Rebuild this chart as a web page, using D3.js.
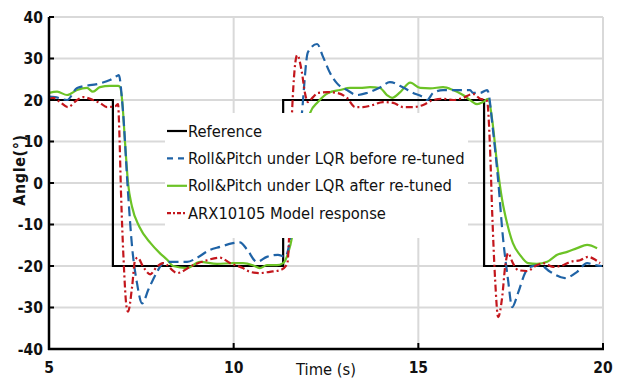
<!DOCTYPE html>
<html>
<head>
<meta charset="utf-8">
<script src="https://cdn.jsdelivr.net/npm/d3@7"></script>
<style>
body { margin: 0; background: #fff; }
</style>
</head>
<body>
<script>
// angle response chart
var w = 619;
var h = 379;
var padL = 49, padT = 17, padR = 603, padB = 349;

// reference step
var refT = [5, 6.73, 11.34, 16.78, 20];
var refV = [20, -20, 20, -20, -20];

// Roll&Pitch under LQR before re-tuned
var beforeT = [5.00, 5.16, 5.49, 5.76, 6.38, 6.65, 6.84, 6.89, 7.00, 7.14, 7.25, 7.38, 7.52, 7.70, 7.92, 8.09, 8.28, 8.74, 9.01, 9.36, 9.63, 9.98, 10.17, 10.36, 10.63, 10.90, 11.20, 11.39, 11.50, 11.65, 11.75, 11.85, 12.01, 12.26, 12.42, 12.61, 12.80, 13.07, 13.34, 13.61, 13.96, 14.23, 14.59, 14.86, 15.13, 15.24, 15.40, 15.67, 16.05, 16.40, 16.48, 16.67, 16.86, 16.89, 17.02, 17.16, 17.29, 17.43, 17.54, 17.70, 17.89, 18.02, 18.30, 18.57, 18.97, 19.30, 19.57, 19.79, 19.97];
var beforeV = [20.8, 20.7, 20.0, 22.9, 24.0, 24.8, 25.8, 26.0, 17.6, -2.4, -15.4, -24.0, -29.0, -25.5, -21.5, -19.3, -19.0, -19.0, -18.0, -16.1, -15.4, -14.5, -14.3, -16.0, -19.0, -17.8, -17.3, -17.8, -15.0, -3.0, 7.0, 17.0, 31.5, 33.5, 30.4, 26.5, 24.0, 22.4, 21.2, 21.7, 23.0, 24.3, 23.0, 21.7, 20.7, 20.0, 21.7, 22.4, 22.4, 22.4, 21.7, 21.7, 22.4, 22.0, 12.8, 0.7, -13.0, -23.4, -29.9, -26.5, -21.7, -20.2, -19.8, -21.4, -22.9, -21.4, -19.3, -19.8, -20.0];

// Roll&Pitch under LQR after re-tuned
var afterT = [5.00, 5.22, 5.49, 5.76, 6.03, 6.19, 6.38, 6.65, 6.87, 6.92, 6.98, 7.06, 7.14, 7.25, 7.45, 7.75, 8.00, 8.20, 8.36, 8.74, 9.09, 9.55, 9.98, 10.25, 10.52, 10.71, 10.90, 11.17, 11.34, 11.47, 11.58, 11.69, 11.80, 11.93, 12.07, 12.28, 12.56, 12.88, 13.15, 13.42, 13.69, 13.96, 14.15, 14.29, 14.51, 14.78, 15.05, 15.32, 15.67, 15.94, 16.21, 16.40, 16.59, 16.75, 16.89, 17.00, 17.13, 17.27, 17.40, 17.56, 17.75, 17.97, 18.21, 18.49, 18.76, 19.03, 19.30, 19.57, 19.84];
var afterV = [21.7, 22.0, 21.2, 22.4, 22.9, 22.0, 23.1, 23.4, 23.4, 23.2, 20.0, 9.6, 0.0, -5.8, -10.6, -14.5, -16.9, -18.5, -20.0, -20.5, -19.0, -19.5, -19.3, -19.3, -19.8, -20.5, -19.8, -19.8, -19.3, -17.0, -13.0, -5.0, 3.0, 11.0, 16.9, 19.5, 21.7, 22.4, 22.9, 22.9, 23.1, 22.9, 21.2, 20.5, 21.9, 24.2, 22.9, 22.8, 23.1, 22.4, 21.2, 20.0, 19.0, 19.5, 20.3, 15.2, 4.8, -4.1, -9.6, -14.5, -17.3, -19.3, -19.5, -19.0, -17.3, -16.6, -15.7, -14.9, -15.7];

// ARX10105 Model response
var arxT = [5.00, 5.11, 5.30, 5.51, 5.76, 5.92, 6.19, 6.38, 6.57, 6.79, 6.87, 6.90, 6.95, 7.02, 7.10, 7.14, 7.25, 7.33, 7.40, 7.55, 7.74, 7.92, 8.09, 8.47, 8.90, 9.28, 9.63, 9.90, 10.25, 10.44, 10.71, 10.98, 11.26, 11.45, 11.50, 11.58, 11.72, 11.85, 11.93, 12.01, 12.15, 12.28, 12.53, 12.80, 13.07, 13.29, 13.50, 13.77, 14.04, 14.32, 14.59, 14.86, 15.13, 15.40, 15.67, 15.94, 16.21, 16.48, 16.67, 16.81, 16.86, 16.94, 17.00, 17.08, 17.16, 17.27, 17.35, 17.43, 17.56, 17.70, 17.94, 18.21, 18.38, 18.65, 18.92, 19.11, 19.38, 19.60, 19.79, 19.92];
var arxV = [20.0, 20.5, 19.5, 18.3, 20.0, 20.7, 20.0, 19.3, 18.3, 18.5, 19.0, 13.5, -2.4, -18.6, -29.9, -31.0, -25.0, -18.6, -18.0, -20.2, -22.0, -20.2, -19.3, -21.7, -19.8, -18.6, -18.0, -19.3, -20.5, -21.4, -21.7, -21.4, -21.0, -19.5, -13.0, 17.0, 30.8, 26.5, 21.7, 19.5, 20.7, 21.7, 21.9, 21.7, 20.5, 18.3, 18.3, 18.8, 19.5, 19.3, 18.3, 18.3, 18.8, 20.0, 20.3, 20.0, 20.5, 21.5, 20.3, 20.0, 19.8, 8.7, -7.2, -23.4, -32.3, -27.5, -20.2, -16.9, -19.3, -21.0, -21.2, -19.8, -19.3, -20.2, -19.8, -19.0, -18.6, -17.8, -18.5, -19.3];

var yTicks = [-40, -30, -20, -10, 0, 10, 20, 30, 40];
var xTicks = [5, 10, 15, 20];
var legendNames = ["Reference", "Roll&Pitch under LQR before re-tuned", "Roll&Pitch under LQR after re-tuned", "ARX10105 Model response"];

var colors = ["#000000", "#1f63a6", "#6cc326", "#c3161c"];
var dashes = [null, "10,5", null, "7,3,2,3"];

var svg = d3.select("body").append("svg")
  .attr("width", w)
  .attr("height", h);

var x = d3.scaleLinear().domain([5, 20]).range([padL, padR]);
var y = d3.scaleLinear().domain([-40, 40]).range([padB, padT]);

var font = "'DejaVu Sans Condensed', 'DejaVu Sans', sans-serif";

// grid
svg.append("g").selectAll("line")
  .data(yTicks.filter(function(d) { return d > -40; }))
  .enter().append("line")
  .attr("x1", padL).attr("x2", padR)
  .attr("y1", function(d) { return y(d); })
  .attr("y2", function(d) { return y(d); })
  .attr("stroke", "#d9d9d9")
  .attr("stroke-width", 2);

svg.append("g").selectAll("line")
  .data(xTicks.filter(function(d) { return d > 5; }))
  .enter().append("line")
  .attr("x1", function(d) { return x(d); })
  .attr("x2", function(d) { return x(d); })
  .attr("y1", padT).attr("y2", padB)
  .attr("stroke", "#d9d9d9")
  .attr("stroke-width", 2);

// series
function pairs(t, v) {
  return t.map(function(d, i) { return [d, v[i]]; });
}

var line = d3.line()
  .x(function(d) { return x(d[0]); })
  .y(function(d) { return y(d[1]); })
  .curve(d3.curveMonotoneX);

var stepLine = d3.line()
  .x(function(d) { return x(d[0]); })
  .y(function(d) { return y(d[1]); })
  .curve(d3.curveStepAfter);

svg.append("path")
  .attr("d", stepLine(pairs(refT, refV)))
  .attr("fill", "none")
  .attr("stroke", colors[0])
  .attr("stroke-width", 2.2);

var series = [pairs(beforeT, beforeV), pairs(afterT, afterV), pairs(arxT, arxV)];
// draw order: after, before, arx
[1, 0, 2].forEach(function(k) {
  svg.append("path")
    .attr("d", line(series[k]))
    .attr("fill", "none")
    .attr("stroke", colors[k + 1])
    .attr("stroke-width", 2.2)
    .attr("stroke-dasharray", dashes[k + 1]);
});

// legend box
svg.append("rect")
  .attr("x", 165).attr("y", 113)
  .attr("width", 303).attr("height", 125)
  .attr("fill", "#ffffff");

var legend = svg.append("g").selectAll("g")
  .data(legendNames)
  .enter().append("g")
  .attr("transform", function(d, i) { return "translate(167," + (131 + i * 27.4) + ")"; });

legend.append("line")
  .attr("x1", 0).attr("x2", 20)
  .attr("stroke", function(d, i) { return colors[i]; })
  .attr("stroke-width", 2.2)
  .attr("stroke-dasharray", function(d, i) { return i == 1 ? "6,5" : (i == 3 ? "4,2,2,2" : null); });

legend.append("text")
  .text(function(d) { return d; })
  .attr("x", 21)
  .attr("y", 5.5)
  .attr("font-family", font)
  .attr("font-size", 16.4)
  .attr("fill", "#111");

// axes
svg.append("line")
  .attr("x1", padL).attr("x2", padL)
  .attr("y1", padT).attr("y2", padB + 1)
  .attr("stroke", "#000").attr("stroke-width", 2.5);
svg.append("line")
  .attr("x1", padL - 1).attr("x2", padR + 1)
  .attr("y1", padB).attr("y2", padB)
  .attr("stroke", "#000").attr("stroke-width", 2.5);

svg.append("g").selectAll("line")
  .data(yTicks)
  .enter().append("line")
  .attr("x1", padL).attr("x2", padL + 5)
  .attr("y1", function(d) { return y(d); })
  .attr("y2", function(d) { return y(d); })
  .attr("stroke", "#000").attr("stroke-width", 2);

svg.append("g").selectAll("line")
  .data(xTicks)
  .enter().append("line")
  .attr("x1", function(d) { return x(d); })
  .attr("x2", function(d) { return x(d); })
  .attr("y1", padB).attr("y2", padB - 6)
  .attr("stroke", "#000").attr("stroke-width", 2);

svg.append("g").selectAll("text")
  .data(yTicks)
  .enter().append("text")
  .text(function(d) { return d; })
  .attr("x", 43)
  .attr("y", function(d) { return y(d) + 5.5; })
  .attr("text-anchor", "end")
  .attr("font-family", font)
  .attr("font-weight", "bold")
  .attr("font-size", 15.5)
  .attr("fill", "#111");

svg.append("g").selectAll("text")
  .data(xTicks)
  .enter().append("text")
  .text(function(d) { return d; })
  .attr("x", function(d) { return x(d); })
  .attr("y", 373)
  .attr("text-anchor", "middle")
  .attr("font-family", font)
  .attr("font-weight", "bold")
  .attr("font-size", 15.5)
  .attr("fill", "#111");

svg.append("text")
  .text("Time (s)")
  .attr("x", 326)
  .attr("y", 375)
  .attr("text-anchor", "middle")
  .attr("font-family", font)
  .attr("font-size", 16.4)
  .attr("fill", "#111");

svg.append("text")
  .text("Angle(°)")
  .attr("transform", "translate(25,170) rotate(-90)")
  .attr("text-anchor", "middle")
  .attr("font-family", font)
  .attr("font-weight", "bold")
  .attr("font-size", 16)
  .attr("letter-spacing", 0.6)
  .attr("fill", "#111");
</script>
</body>
</html>
